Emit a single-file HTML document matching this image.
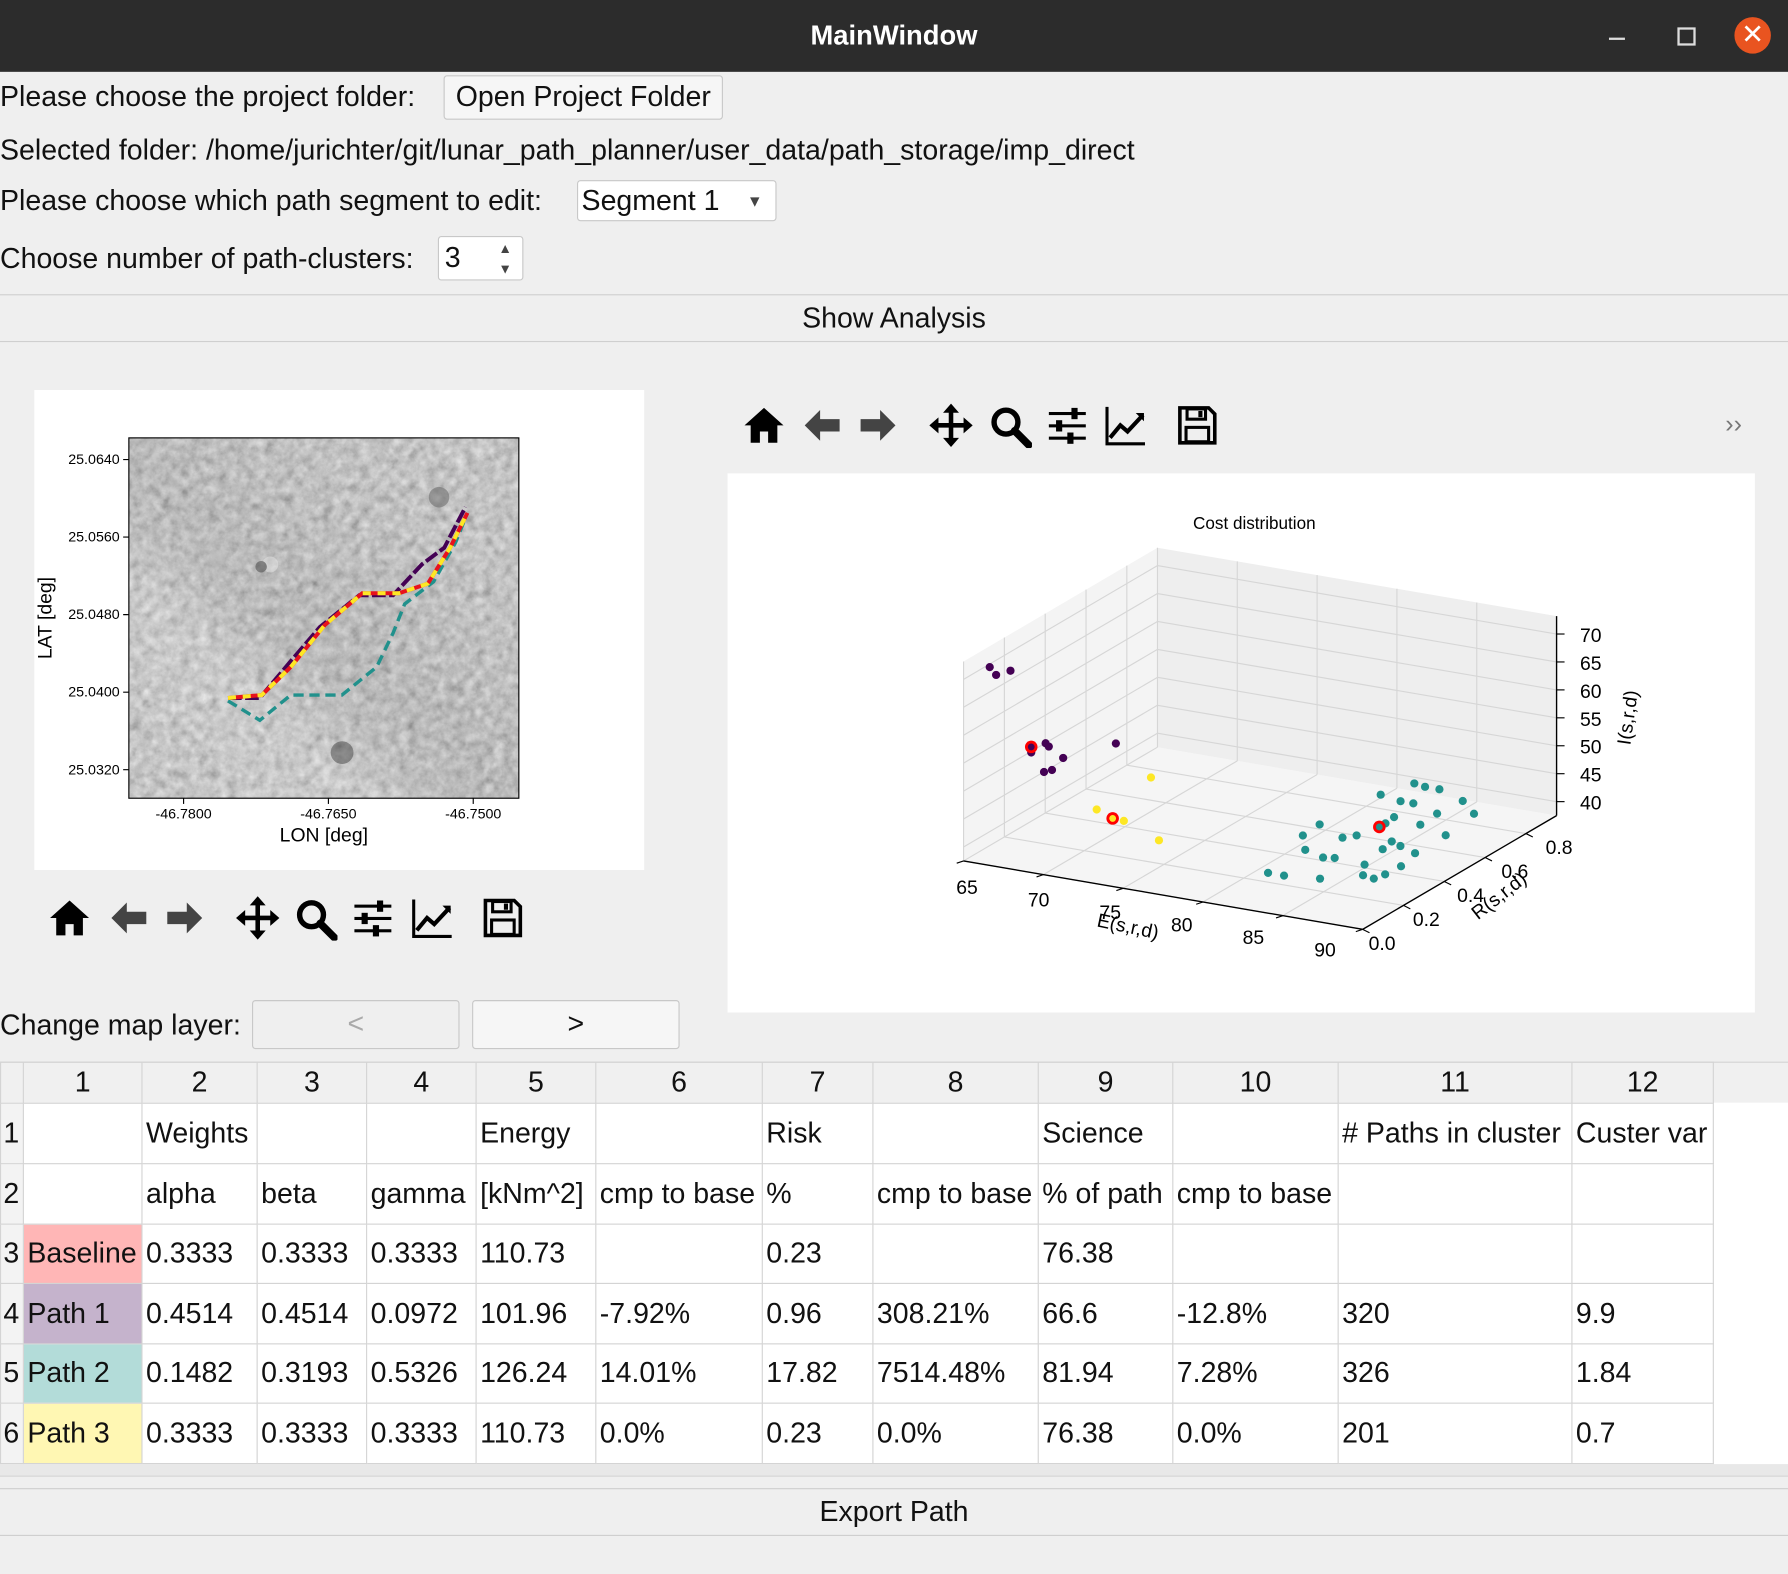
<!DOCTYPE html>
<html><head><meta charset="utf-8">
<style>
html,body{margin:0;padding:0;width:1788px;height:1574px;overflow:hidden;background:#efefef;}
#root{position:absolute;left:0;top:0;width:1568px;height:1380px;transform:scale(1.14031);transform-origin:0 0;background:#efefef;font-family:"Liberation Sans",sans-serif;color:#111;}
.abs{position:absolute;}
.lbl{position:absolute;font-size:25px;white-space:nowrap;line-height:30px;}
.btn{position:absolute;background:#f6f6f6;border:1px solid #c8c8c8;border-radius:3px;font-size:25px;line-height:36px;box-sizing:border-box;}
.bar{position:absolute;left:0;width:1568px;border-top:1px solid #cfcfcf;border-bottom:1px solid #cfcfcf;background:#efefef;text-align:center;font-size:25px;box-sizing:border-box;}
table{border-collapse:collapse;table-layout:fixed;position:absolute;left:0;top:931px;font-size:25px;}
td{border:1px solid #d4d4d4;background:#fff;padding:0 0 0 3px;white-space:nowrap;overflow:hidden;}
tr.h td{background:#f0f0f0;text-align:center;height:35px;padding:0;}
td.rh{background:#f3f3f3;padding:0 0 0 2px;}
</style></head><body>
<div id="root">
<svg width="0" height="0" style="position:absolute">
<defs>
<symbol id="i-home" viewBox="0 0 40 40"><path d="M20 3 L1 20 H7 V37 H16 V26 H24 V37 H33 V20 H39 Z"/></symbol>
<symbol id="i-back" viewBox="0 0 40 40"><path d="M3 20 L18 5 V14 H37 V26 H18 V35 Z" fill="#444"/></symbol>
<symbol id="i-fwd" viewBox="0 0 40 40"><path d="M37 20 L22 5 V14 H3 V26 H22 V35 Z" fill="#444"/></symbol>
<symbol id="i-move" viewBox="0 0 40 40"><path d="M20 1 L27 9 H22 V18 H31 V13 L39 20 L31 27 V22 H22 V31 H27 L20 39 L13 31 H18 V22 H9 V27 L1 20 L9 13 V18 H18 V9 H13 Z"/></symbol>
<symbol id="i-zoom" viewBox="0 0 40 40"><circle cx="16" cy="16" r="11" fill="none" stroke="#000" stroke-width="5"/><path d="M24 24 L37 37" stroke="#000" stroke-width="7" stroke-linecap="round"/></symbol>
<symbol id="i-conf" viewBox="0 0 40 40"><rect x="2" y="7" width="36" height="3"/><rect x="2" y="19" width="36" height="3"/><rect x="2" y="31" width="36" height="3"/><rect x="24" y="3" width="6" height="11"/><rect x="9" y="15" width="6" height="11"/><rect x="20" y="27" width="6" height="11"/></symbol>
<symbol id="i-chart" viewBox="0 0 40 40"><path d="M2 2 V38 H39" fill="none" stroke="#000" stroke-width="3"/><path d="M5 32 L15 20 L22 26 L37 10" fill="none" stroke="#000" stroke-width="4"/><path d="M30 8 H38 V16 Z"/></symbol>
<symbol id="i-save" viewBox="0 0 40 40"><path d="M3 3 H31 L37 9 V37 H3 Z" fill="none" stroke="#000" stroke-width="3.5"/><rect x="10" y="4" width="18" height="10" fill="none" stroke="#000" stroke-width="3"/><rect x="21" y="6" width="4" height="6"/><rect x="9" y="22" width="22" height="14" fill="none" stroke="#000" stroke-width="3"/></symbol>
<filter id="moon" x="0" y="0" width="100%" height="100%"><feTurbulence type="fractalNoise" baseFrequency="0.12" numOctaves="4" seed="7"/><feColorMatrix type="matrix" values="0.33 0.33 0.33 0 0  0.33 0.33 0.33 0 0  0.33 0.33 0.33 0 0  0 0 0 0 1"/><feComponentTransfer><feFuncR type="linear" slope="0.9" intercept="0.1"/><feFuncG type="linear" slope="0.9" intercept="0.1"/><feFuncB type="linear" slope="0.9" intercept="0.1"/></feComponentTransfer></filter>
<linearGradient id="band" x1="0" y1="1" x2="1" y2="0"><stop offset="0" stop-color="#fff" stop-opacity="0"/><stop offset="0.3" stop-color="#fff" stop-opacity="0.12"/><stop offset="0.5" stop-color="#000" stop-opacity="0.05"/><stop offset="1" stop-color="#fff" stop-opacity="0"/></linearGradient>
</defs></svg>

<!-- title bar -->
<div class="abs" style="left:0;top:0;width:1568px;height:63px;background:#2c2c2c;">
<div class="abs" style="left:0;width:1568px;top:18px;text-align:center;color:#fff;font-weight:bold;font-size:24px;">MainWindow</div>
<div class="abs" style="left:1411px;top:33px;width:14px;height:2px;background:#ddd;"></div>
<div class="abs" style="left:1471px;top:24px;width:12px;height:12px;border:2px solid #ddd;"></div>
<div class="abs" style="left:1521px;top:15px;width:32px;height:32px;border-radius:50%;background:#e95420;color:#fff;text-align:center;font-size:24px;line-height:32px;">✕</div>
</div>

<div class="lbl" style="left:0;top:70px;">Please choose the project folder:</div>
<div class="btn" style="left:389px;top:66px;width:245px;height:39px;text-align:center;">Open Project Folder</div>
<div class="lbl" style="left:0;top:117px;">Selected folder: /home/jurichter/git/lunar_path_planner/user_data/path_storage/imp_direct</div>
<div class="lbl" style="left:0;top:161px;">Please choose which path segment to edit:</div>
<div class="btn" style="left:506px;top:158px;width:175px;height:36px;padding-left:3px;line-height:34px;background:#fff;">Segment 1<span style="position:absolute;left:148px;top:0;font-size:14px;color:#444;">▼</span></div>
<div class="lbl" style="left:0;top:212px;">Choose number of path-clusters:</div>
<div class="btn" style="left:384px;top:207px;width:75px;height:39px;background:#fff;padding-left:5px;">3<span style="position:absolute;left:52px;top:-8px;font-size:12px;color:#444;">▲</span><span style="position:absolute;left:52px;top:10px;font-size:12px;color:#444;">▼</span></div>

<div class="bar" style="top:258px;height:42px;line-height:40px;">Show Analysis</div>

<!-- left figure -->
<svg class="abs" style="left:30px;top:342px;" width="535" height="421" viewBox="30 342 535 421" id="mapsvg">
<rect x="30" y="342" width="535" height="421" fill="#fff"/>
<rect x="113" y="384" width="342" height="316" fill="#888" filter="url(#moon)"/>
<rect x="113" y="384" width="342" height="316" fill="url(#band)"/>
<g opacity="0.45">
<circle cx="237" cy="495" r="7" fill="#eee"/><circle cx="229" cy="497" r="5" fill="#333"/><circle cx="385" cy="436" r="9" fill="#555"/><circle cx="300" cy="660" r="10" fill="#333"/><circle cx="190" cy="490" r="7" fill="#bbb"/>
</g>
<rect x="113" y="384" width="342" height="316" fill="none" stroke="#000" stroke-width="1"/>
<g id="mapaxes" font-size="12.5" fill="#000"></g>
<text x="284" y="738" font-size="17" text-anchor="middle">LON [deg]</text>
<text x="45" y="542" font-size="17" text-anchor="middle" transform="rotate(-90 45 542)">LAT [deg]</text>
<g id="mappaths"></g>
</svg>

<!-- left toolbar -->
<div class="abs" style="left:0;top:785px;width:480px;height:42px;">
<svg class="abs" style="left:43px;top:2px" width="36" height="36"><use href="#i-home"/></svg>
<svg class="abs" style="left:95px;top:2px" width="36" height="36"><use href="#i-back"/></svg>
<svg class="abs" style="left:144px;top:2px" width="36" height="36"><use href="#i-fwd"/></svg>
<svg class="abs" style="left:206px;top:0px" width="40" height="40"><use href="#i-move"/></svg>
<svg class="abs" style="left:258px;top:2px" width="38" height="38"><use href="#i-zoom"/></svg>
<svg class="abs" style="left:309px;top:2px" width="36" height="36"><use href="#i-conf"/></svg>
<svg class="abs" style="left:359px;top:2px" width="40" height="36"><use href="#i-chart"/></svg>
<svg class="abs" style="left:423px;top:2px" width="36" height="36"><use href="#i-save"/></svg>
</div>

<!-- right toolbar -->
<div class="abs" style="left:640px;top:353px;width:900px;height:42px;">
<svg class="abs" style="left:12px;top:2px" width="36" height="36"><use href="#i-home"/></svg>
<svg class="abs" style="left:63px;top:2px" width="36" height="36"><use href="#i-back"/></svg>
<svg class="abs" style="left:112px;top:2px" width="36" height="36"><use href="#i-fwd"/></svg>
<svg class="abs" style="left:174px;top:0px" width="40" height="40"><use href="#i-move"/></svg>
<svg class="abs" style="left:227px;top:2px" width="38" height="38"><use href="#i-zoom"/></svg>
<svg class="abs" style="left:278px;top:2px" width="36" height="36"><use href="#i-conf"/></svg>
<svg class="abs" style="left:327px;top:2px" width="40" height="36"><use href="#i-chart"/></svg>
<svg class="abs" style="left:392px;top:2px" width="36" height="36"><use href="#i-save"/></svg>
<div class="abs" style="left:873px;top:6px;font-size:22px;color:#777;">››</div>
</div>

<!-- right figure -->
<svg class="abs" style="left:638px;top:415px;" width="901" height="473" viewBox="638 415 901 473" id="plot3d">
<rect x="638" y="415" width="901" height="473" fill="#fff"/>
<text x="1100" y="464" font-size="15" text-anchor="middle">Cost distribution</text>
<g id="panes"></g><g id="grid"></g><g id="axes3d"></g><g id="pts"></g>
</svg>

<div class="lbl" style="left:0;top:884px;">Change map layer:</div>
<div class="btn" style="left:221px;top:877px;width:182px;height:43px;line-height:41px;text-align:center;color:#aaa;background:#efefef;">&lt;</div>
<div class="btn" style="left:414px;top:877px;width:182px;height:43px;line-height:41px;text-align:center;">&gt;</div>

<div class="abs" style="left:0;top:931px;width:1568px;height:36px;background:#f0f0f0;border-top:1px solid #d4d4d4;box-sizing:border-box;"></div>
<div class="abs" style="left:0;top:967px;width:1568px;height:317px;background:#fff;"></div>
<table>
<colgroup><col style="width:20px"><col style="width:104px"><col style="width:101px"><col style="width:96px"><col style="width:96px"><col style="width:105px"><col style="width:146px"><col style="width:97px"><col style="width:145px"><col style="width:118px"><col style="width:145px"><col style="width:205px"><col style="width:124px"></colgroup>
<tr class="h"><td></td><td>1</td><td>2</td><td>3</td><td>4</td><td>5</td><td>6</td><td>7</td><td>8</td><td>9</td><td>10</td><td>11</td><td>12</td></tr>
<tr style="height:53px"><td class="rh">1</td><td></td><td>Weights</td><td></td><td></td><td>Energy</td><td></td><td>Risk</td><td></td><td>Science</td><td></td><td># Paths in cluster</td><td>Custer var</td></tr>
<tr style="height:53px"><td class="rh">2</td><td></td><td>alpha</td><td>beta</td><td>gamma</td><td>[kNm^2]</td><td>cmp to base</td><td>%</td><td>cmp to base</td><td>% of path</td><td>cmp to base</td><td></td><td></td></tr>
<tr style="height:52px"><td class="rh">3</td><td style="background:#ffb6b6">Baseline</td><td>0.3333</td><td>0.3333</td><td>0.3333</td><td>110.73</td><td></td><td>0.23</td><td></td><td>76.38</td><td></td><td></td><td></td></tr>
<tr style="height:53px"><td class="rh">4</td><td style="background:#c5b3cc">Path 1</td><td>0.4514</td><td>0.4514</td><td>0.0972</td><td>101.96</td><td>-7.92%</td><td>0.96</td><td>308.21%</td><td>66.6</td><td>-12.8%</td><td>320</td><td>9.9</td></tr>
<tr style="height:52px"><td class="rh">5</td><td style="background:#b3dcd9">Path 2</td><td>0.1482</td><td>0.3193</td><td>0.5326</td><td>126.24</td><td>14.01%</td><td>17.82</td><td>7514.48%</td><td>81.94</td><td>7.28%</td><td>326</td><td>1.84</td></tr>
<tr style="height:53px"><td class="rh">6</td><td style="background:#fff7b3">Path 3</td><td>0.3333</td><td>0.3333</td><td>0.3333</td><td>110.73</td><td>0.0%</td><td>0.23</td><td>0.0%</td><td>76.38</td><td>0.0%</td><td>201</td><td>0.7</td></tr>
</table>
<div class="abs" style="left:0;top:1284px;width:1568px;height:10px;background:#e8e8e8;border-bottom:1px solid #d4d4d4;"></div>

<div class="bar" style="top:1305px;height:42px;line-height:40px;">Export Path</div>
</div>

<script>
const NS='http://www.w3.org/2000/svg';
function mk(tag,attrs,parent){const e=document.createElementNS(NS,tag);for(const k in attrs)e.setAttribute(k,attrs[k]);parent.appendChild(e);return e;}

/* ---------- map ---------- */
const latTicks=[25.0640,25.0560,25.0480,25.0400,25.0320];
const lonTicks=[-46.7800,-46.7650,-46.7500];
const purpleLon=[-46.7754,-46.7721,-46.7689,-46.7659,-46.7618,-46.7583,-46.7553,-46.7530,-46.7508];
const purpleLat=[25.0394,25.0394,25.0432,25.0467,25.0500,25.0500,25.0532,25.0549,25.0591];
const yellowLon=[-46.7754,-46.7719,-46.7689,-46.7654,-46.7615,-46.7577,-46.7547,-46.7524,-46.7506];
const yellowLat=[25.0394,25.0397,25.0426,25.0469,25.0502,25.0502,25.0512,25.0549,25.0585];
const tealLon=[-46.7754,-46.7721,-46.7689,-46.7636,-46.7600,-46.7583,-46.7571,-46.7541,-46.7518,-46.7506];
const tealLat=[25.0391,25.0371,25.0397,25.0397,25.0426,25.0461,25.0491,25.0514,25.0555,25.0585];
const mx=lon=>161+(lon+46.78)/0.015*127;
const my=lat=>403+(25.064-lat)/0.008*68;
const ma=document.getElementById('mapaxes');
latTicks.forEach(v=>{const y=my(v);
 const l=mk('line',{x1:108,x2:113,y1:y,y2:y,stroke:'#000'},ma);
 
 
 const t=mk('text',{x:105,y:y+4,'text-anchor':'end'},ma);t.textContent=v.toFixed(4);
 
 });
lonTicks.forEach(v=>{const x=mx(v);
 const l=mk('line',{x1:x,x2:x,y1:700,y2:705,stroke:'#000'},ma);
 
 
 const t=mk('text',{x:x,y:718,'text-anchor':'middle'},ma);t.textContent=v.toFixed(4);
 
 });
const mp=document.getElementById('mappaths');
function pts(lo,la){return lo.map((v,i)=>mx(v)+','+my(la[i])).join(' ');}
let p=mk('polyline',{points:pts(tealLon,tealLat),fill:'none',stroke:'#21918c','stroke-width':3,'stroke-dasharray':'9,5'},mp);


p=mk('polyline',{points:pts(purpleLon,purpleLat),fill:'none',stroke:'#440154','stroke-width':3.5,'stroke-dasharray':'12,3'},mp);


p=mk('polyline',{points:pts(yellowLon,yellowLat),fill:'none',stroke:'#e8121c','stroke-width':3.5},mp);


p=mk('polyline',{points:pts(yellowLon,yellowLat),fill:'none',stroke:'#fde725','stroke-width':3.5,'stroke-dasharray':'7,6'},mp);



/* ---------- 3d scatter ---------- */
const eTicks=[65,70,75,80,85,90];
const rTicks=[0.0,0.2,0.4,0.6,0.8];
const iTicks=[40,45,50,55,60,65,70];
const tealE=[81.6,82.4,83.3,80.9,82.4,83.2,85.2,83.4,85.3,87.0,80.4,82.6,83.1,83.5,85.5,86.1,87.4,87.4,80.5,81.8,83.3,83.9,85.9,87.5,86.7,87.7,87.8,81.9,82.9,84.9,85.3,85.4];
const tealR=[0.91,0.90,0.90,0.80,0.78,0.78,0.74,0.67,0.65,0.78,0.54,0.48,0.51,0.62,0.45,0.49,0.46,0.61,0.45,0.36,0.33,0.34,0.33,0.25,0.26,0.29,0.36,0.17,0.17,0.19,0.51,0.85];
const tealI=tealE.map(()=>40);
const purpleE=[66.0,66.4,67.3,68.6,69.5,69.7,70.6,69.4,69.9,73.9];
const purpleR=[0.05,0.05,0.05,0.05,0.05,0.05,0.05,0.05,0.05,0.05];
const purpleI=[71.6,70.4,71.6,57.6,59.7,59.2,57.6,54.5,55.1,61.8];
const yellowE=[76.1,72.7,74.4,76.6];
const yellowR=[0.05,0.05,0.05,0.05];
const yellowI=[56.8,49.4,48.2,45.8];
const centerE=[68.6,73.7,83.5];
const centerR=[0.05,0.05,0.59];
const centerI=[58.6,48.3,40];
const centerColor=['#440154','#fde725','#21918c'];
const E0=65,E1=90,R0=0,R1=0.95,I0=37.5,I1=73.2;
function proj(e,r,i){return [845+(e-E0)*14+r*179, 755+(e-E0)*2.4-r*105-(i-I0)*4.9];}
function poly(arr,g,fill,name){const e=mk('polygon',{points:arr.map(a=>a.join(',')).join(' '),fill:fill,stroke:'none'},g);}
const panes=document.getElementById('panes');
poly([proj(E0,R0,I0),proj(E1,R0,I0),proj(E1,R1,I0),proj(E0,R1,I0)],panes,'#f5f5f5','floor-pane');
poly([proj(E0,R0,I0),proj(E0,R1,I0),proj(E0,R1,I1),proj(E0,R0,I1)],panes,'#f4f4f4','left-pane');
poly([proj(E0,R1,I0),proj(E1,R1,I0),proj(E1,R1,I1),proj(E0,R1,I1)],panes,'#eeeeee','back-pane');
const grid=document.getElementById('grid');
function ln(a,b,g,st,w,name){const e=mk('line',{x1:a[0],y1:a[1],x2:b[0],y2:b[1],stroke:st,'stroke-width':w},g);return e;}
eTicks.forEach(e=>{ln(proj(e,R0,I0),proj(e,R1,I0),grid,'#d6d6d6',1,'grid-line');ln(proj(e,R1,I0),proj(e,R1,I1),grid,'#d6d6d6',1,'grid-line');});
rTicks.forEach(r=>{ln(proj(E0,r,I0),proj(E1,r,I0),grid,'#d6d6d6',1,'grid-line');ln(proj(E0,r,I0),proj(E0,r,I1),grid,'#d6d6d6',1,'grid-line');});
iTicks.forEach(i=>{ln(proj(E0,R0,i),proj(E0,R1,i),grid,'#d6d6d6',1,'grid-line');ln(proj(E0,R1,i),proj(E1,R1,i),grid,'#d6d6d6',1,'grid-line');});
const ax=document.getElementById('axes3d');
ln(proj(E0,R0,I0),proj(E1,R0,I0),ax,'#000',1.2,'e-axis-line');
ln(proj(E1,R0,I0),proj(E1,R1,I0),ax,'#000',1.2,'r-axis-line');
ln(proj(E1,R1,I0),proj(E1,R1,I1),ax,'#000',1.2,'i-axis-line');
function txt(x,y,s,anchor,g,name,size,rot){const t=mk('text',{x:x,y:y,'text-anchor':anchor,'font-size':size||17},g);if(rot)t.setAttribute('transform','rotate('+rot+' '+x+' '+y+')');t.textContent=s;return t;}
eTicks.forEach(e=>{const p=proj(e,R0,I0);const f=(e-E0)/(E1-E0);
 ln(p,[p[0]-6,p[1]+2],ax,'#000',1,'e-tick');
 txt(p[0]+3-36*f,p[1]+29-5*f,String(e),'middle',ax,'e-tick-label');});
rTicks.forEach(r=>{const p=proj(E1,r,I0);
 ln(p,[p[0]+6,p[1]+3],ax,'#000',1,'r-tick');
 txt(p[0]+17+15*r,p[1]+18,r.toFixed(1),'middle',ax,'r-tick-label');});
iTicks.forEach(i=>{const p=proj(E1,R1,i);
 ln(p,[p[0]+7,p[1]],ax,'#000',1,'i-tick');
 txt(p[0]+30,p[1]+7,String(i),'middle',ax,'i-tick-label');});
txt(988,818,'E(s,r,d)','middle',ax,'e-axis-title',17,12);
txt(1318,790,'R(s,r,d)','middle',ax,'r-axis-title',17,-38);
txt(1433,630,'I(s,r,d)','middle',ax,'i-axis-title',17,-82);
const pg=document.getElementById('pts');
function scatter(E,R,I,color,name){E.forEach((e,k)=>{const p=proj(e,R[k],I[k]);const c=mk('circle',{cx:p[0],cy:p[1],r:3.6,fill:color},pg);});}
scatter(purpleE,purpleR,purpleI,'#440154','path-1-point');
scatter(yellowE,yellowR,yellowI,'#fde725','path-3-point');
scatter(tealE,tealR,tealI,'#21918c','path-2-point');
centerE.forEach((e,k)=>{const p=proj(e,centerR[k],centerI[k]);
 const c=mk('circle',{cx:p[0],cy:p[1],r:5.5,fill:'#ff0000'},pg);
 
 
 const d=mk('circle',{cx:p[0],cy:p[1],r:3,fill:centerColor[k]},pg);
 
 });
</script>
</body></html>
